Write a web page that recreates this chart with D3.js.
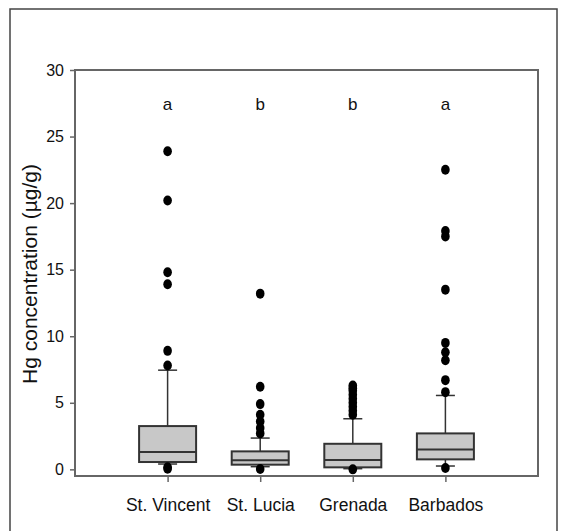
<!DOCTYPE html>
<html>
  <head>
    <meta charset="utf-8">
    <title>Hg boxplot</title>
    <style media="screen">
    body{margin: 0; background: #fff}
    text {font-family: "Liberation Sans", Arial, sans-serif; fill: #111}
    </style>
  </head>
  <body>
    <script src="https://d3js.org/d3.v7.min.js"></script>
    <script type="text/javascript">
      // values
      var islands = ['St. Vincent', 'St. Lucia', 'Grenada', 'Barbados']
      var whiskLow = [0.4, 0.2, 0.05, 0.25]
      var q1 = [0.55, 0.35, 0.15, 0.75]
      var median = [1.3, 0.68, 0.7, 1.5]
      var q3 = [3.25, 1.35, 1.92, 2.7]
      var whiskHigh = [7.45, 2.35, 3.8, 5.55]
      var outliers = [
        [23.9, 20.2, 14.8, 13.9, 8.9, 7.8, 0.15, 0.05],
        [13.2, 6.2, 4.9, 4.1, 3.6, 3.1, 2.7, 0.02],
        [6.3, 6.1, 5.9, 5.6, 5.3, 5.0, 4.7, 4.4, 4.1, 0.0],
        [22.5, 17.9, 17.5, 13.5, 9.5, 8.8, 8.2, 6.7, 5.8, 0.1]
      ]
      var letters = ['a', 'b', 'b', 'a']
      var yTicks = [0, 5, 10, 15, 20, 25, 30]

      var w = 568, h = 531
      var m = {left: 75, right: 538, top: 70, bottom: 476}

      var svg = d3.select('body').append('svg')
        .attr('width', w)
        .attr('height', h)

      // outer frame
      svg.append('rect')
        .attr('x', 10).attr('y', 9)
        .attr('width', 547).attr('height', 540)
        .attr('fill', 'none')
        .attr('stroke', '#444')
        .attr('stroke-width', 1.5)

      var y = d3.scaleLinear().domain([-0.5, 30]).range([m.bottom, m.top])
      var x = d3.scalePoint().domain(islands).range([m.left, m.right]).padding(1)

      // plot frame
      svg.append('rect')
        .attr('x', m.left).attr('y', m.top)
        .attr('width', m.right - m.left).attr('height', m.bottom - m.top)
        .attr('fill', 'none')
        .attr('stroke', '#666')
        .attr('stroke-width', 2)

      var yAxis = svg.append('g')
        .attr('transform', 'translate(' + m.left + ',0)')
        .call(d3.axisLeft(y).tickValues(yTicks).tickSize(5).tickPadding(6))
      yAxis.select('.domain').remove()
      yAxis.selectAll('line').attr('stroke', '#666').attr('stroke-width', 1.5)
      yAxis.selectAll('text')
        .attr('font-size', 16)
        .attr('font-family', '"Liberation Sans", Arial, sans-serif')
        .attr('fill', '#111')

      var xAxis = svg.append('g')
        .attr('transform', 'translate(0,' + m.bottom + ')')
        .call(d3.axisBottom(x).tickSize(6).tickPadding(17))
      xAxis.select('.domain').remove()
      xAxis.selectAll('line').attr('stroke', '#666').attr('stroke-width', 1.5)
      xAxis.selectAll('text')
        .attr('font-size', 17.5)
        .attr('font-family', '"Liberation Sans", Arial, sans-serif')
        .attr('fill', '#111')

      svg.append('text')
        .attr('transform', 'translate(37,274) rotate(-90)')
        .attr('text-anchor', 'middle')
        .attr('font-size', 21)
        .text('Hg concentration (\u00b5g/g)')

      var boxW = 57, capW = 19
      var g = svg.selectAll('.box')
        .data(islands)
        .enter().append('g')
          .attr('class', 'box')

      // whiskers
      g.append('line')
        .attr('x1', function(d){ return x(d) }).attr('x2', function(d){ return x(d) })
        .attr('y1', function(d, i){ return y(whiskHigh[i]) })
        .attr('y2', function(d, i){ return y(whiskLow[i]) })
        .attr('stroke', '#333').attr('stroke-width', 1.5)
      g.append('line')
        .attr('x1', function(d){ return x(d) - capW / 2 }).attr('x2', function(d){ return x(d) + capW / 2 })
        .attr('y1', function(d, i){ return y(whiskHigh[i]) })
        .attr('y2', function(d, i){ return y(whiskHigh[i]) })
        .attr('stroke', '#333').attr('stroke-width', 1.5)
      g.append('line')
        .attr('x1', function(d){ return x(d) - capW / 2 }).attr('x2', function(d){ return x(d) + capW / 2 })
        .attr('y1', function(d, i){ return y(whiskLow[i]) })
        .attr('y2', function(d, i){ return y(whiskLow[i]) })
        .attr('stroke', '#333').attr('stroke-width', 1.5)

      g.append('rect')
        .attr('x', function(d){ return x(d) - boxW / 2 })
        .attr('y', function(d, i){ return y(q3[i]) })
        .attr('width', boxW)
        .attr('height', function(d, i){ return y(q1[i]) - y(q3[i]) })
        .attr('fill', '#c8c8c8')
        .attr('stroke', '#333')
        .attr('stroke-width', 2)

      g.append('line')
        .attr('x1', function(d){ return x(d) - boxW / 2 }).attr('x2', function(d){ return x(d) + boxW / 2 })
        .attr('y1', function(d, i){ return y(median[i]) })
        .attr('y2', function(d, i){ return y(median[i]) })
        .attr('stroke', '#333').attr('stroke-width', 2)

      g.each(function(d, i){
        d3.select(this).selectAll('ellipse')
          .data(outliers[i])
          .enter().append('ellipse')
            .attr('cx', x(d))
            .attr('cy', function(v){ return y(v) })
            .attr('rx', 4.3)
            .attr('ry', 5)
            .attr('fill', '#000')
      })

      g.append('text')
        .attr('x', function(d){ return x(d) })
        .attr('y', y(27.4) + 5)
        .attr('text-anchor', 'middle')
        .attr('font-size', 17)
        .text(function(d, i){ return letters[i] })
    </script>
  </body>
</html>
